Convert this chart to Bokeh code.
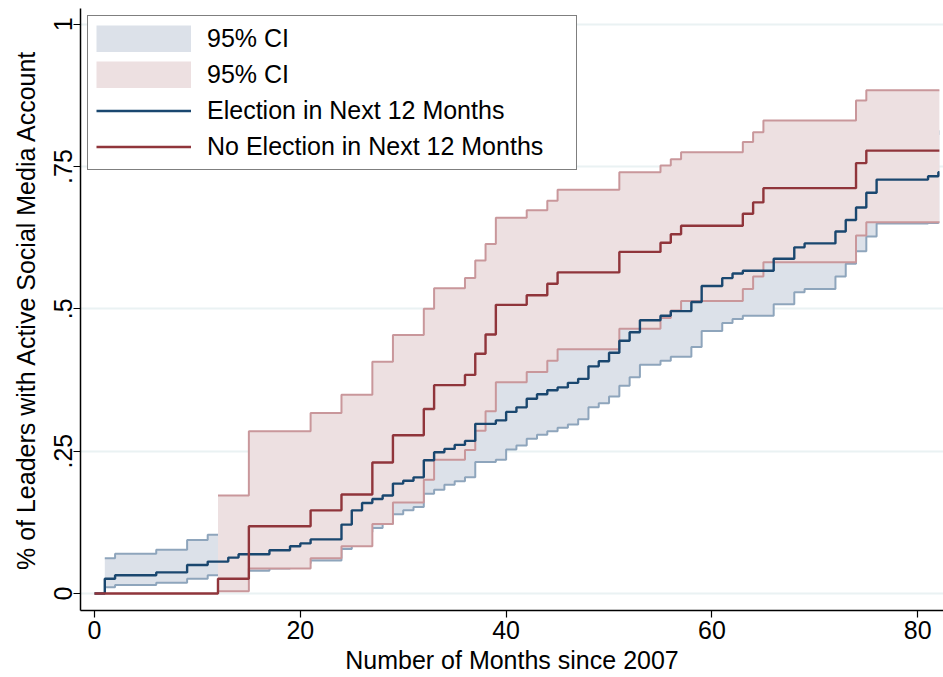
from bokeh.plotting import figure
from bokeh.models import Range1d, FixedTicker, Legend, LegendItem
from bokeh.embed import file_html
from bokeh.resources import INLINE

# ---------------- data ----------------
END_MONTH = 82.1

blue_months = [0, 1, 2, 6, 9, 11, 13, 14, 17, 19, 20, 21, 24, 25, 26, 27, 28, 29, 30, 31,
               32, 33, 34, 35, 36, 37, 39, 40, 41, 42, 43, 44, 45, 46, 47, 48, 49, 50, 51, 52,
               53, 55, 56, 58, 59, 61, 62, 63, 66, 68, 69, 72, 73, 74, 75, 76, 81, 82]
blue_est = [0.000, 0.026, 0.032, 0.037, 0.050, 0.056, 0.063, 0.069, 0.076, 0.083, 0.088, 0.095,
            0.121, 0.146, 0.159, 0.166, 0.172, 0.193, 0.198, 0.204, 0.234, 0.248, 0.254, 0.261,
            0.268, 0.298, 0.304, 0.319, 0.327, 0.342, 0.350, 0.357, 0.362, 0.370, 0.377, 0.399,
            0.408, 0.423, 0.444, 0.459, 0.480, 0.488, 0.496, 0.512, 0.540, 0.554, 0.562, 0.567,
            0.588, 0.608, 0.615, 0.636, 0.656, 0.678, 0.704, 0.727, 0.733, 0.740]
# CI values start at the first event (month 1)
blue_lo = [0.011, 0.015, 0.019, 0.026, 0.032, 0.036, 0.040, 0.044, 0.049, 0.053, 0.058, 0.078,
           0.098, 0.108, 0.115, 0.122, 0.139, 0.146, 0.152, 0.175, 0.182, 0.191, 0.197, 0.204,
           0.231, 0.235, 0.253, 0.260, 0.272, 0.279, 0.285, 0.291, 0.297, 0.306, 0.327, 0.334,
           0.346, 0.365, 0.380, 0.402, 0.409, 0.416, 0.433, 0.461, 0.475, 0.482, 0.488, 0.508,
           0.529, 0.535, 0.557, 0.579, 0.601, 0.627, 0.650, 0.651, 0.652]
blue_hi = [0.062, 0.070, 0.077, 0.094, 0.103, 0.112, 0.120, 0.128, 0.137, 0.143, 0.152, 0.183,
           0.212, 0.228, 0.236, 0.243, 0.267, 0.273, 0.280, 0.313, 0.328, 0.335, 0.342, 0.349,
           0.380, 0.386, 0.402, 0.410, 0.425, 0.433, 0.440, 0.446, 0.454, 0.461, 0.483, 0.492,
           0.507, 0.527, 0.542, 0.562, 0.570, 0.578, 0.593, 0.620, 0.634, 0.641, 0.646, 0.667,
           0.686, 0.693, 0.713, 0.732, 0.753, 0.778, 0.800, 0.806, 0.812]

red_months = [0, 12, 15, 21, 24, 27, 29, 32, 33, 36, 37, 38, 39, 42, 44, 45, 51, 55, 56, 57,
              63, 64, 65, 74, 75]
red_est = [0.000, 0.026, 0.118, 0.146, 0.174, 0.230, 0.278, 0.324, 0.366, 0.384, 0.421, 0.455,
           0.507, 0.524, 0.544, 0.564, 0.600, 0.616, 0.631, 0.646, 0.667, 0.687, 0.712, 0.756,
           0.778]
# CI values start at the first event (month 12)
red_lo = [0.004, 0.044, 0.062, 0.083, 0.122, 0.160, 0.200, 0.235, 0.252, 0.286, 0.320, 0.371,
          0.389, 0.409, 0.429, 0.465, 0.484, 0.497, 0.514, 0.535, 0.557, 0.582, 0.629, 0.652]
red_hi = [0.172, 0.285, 0.317, 0.349, 0.407, 0.454, 0.500, 0.536, 0.554, 0.585, 0.614, 0.660,
          0.673, 0.690, 0.709, 0.740, 0.752, 0.763, 0.775, 0.793, 0.810, 0.831, 0.866, 0.884]

x_ticks = [0, 20, 40, 60, 80]
y_ticks = [0, 0.25, 0.5, 0.75, 1]
y_tick_labels = ["0", ".25", ".5", ".75", "1"]

legend_labels = ["95% CI", "95% CI", "Election in Next 12 Months", "No Election in Next 12 Months"]
x_title = "Number of Months since 2007"
y_title = "% of Leaders with Active Social Media Account"

# ---------------- styles ----------------
FONT = "Liberation Sans"
BLUE = "#1a476f"
RED = "#90353b"
BLUE_FILL = "#dce1e9"
BLUE_EDGE = "#8ea5bc"
RED_FILL = "#ede0e1"
RED_EDGE = "#c9979b"


def ext(xs, ys):
    return list(xs) + [END_MONTH], list(ys) + [ys[-1]]


p = figure(width=943, height=677, output_backend="svg", toolbar_location=None,
           x_range=Range1d(-1.36, 82.5), y_range=Range1d(-0.0299, 1.0276),
           min_border_left=80, min_border_right=0, min_border_top=8, min_border_bottom=67)
p.outline_line_color = None
p.background_fill_color = "white"
p.border_fill_color = "white"

# blue CI band
bx, blo = ext(blue_months[1:], blue_lo)
_, bhi = ext(blue_months[1:], blue_hi)
p.varea_step(x=bx, y1=blo, y2=bhi, step_mode="after", fill_color=BLUE_FILL)
p.step(bx, blo, mode="after", line_color=BLUE_EDGE, line_width=2)
p.step(bx, bhi, mode="after", line_color=BLUE_EDGE, line_width=2)

# red CI band
rx, rlo = ext(red_months[1:], red_lo)
_, rhi = ext(red_months[1:], red_hi)
p.varea_step(x=rx, y1=rlo, y2=rhi, step_mode="after", fill_color=RED_FILL)
p.step(rx, rlo, mode="after", line_color=RED_EDGE, line_width=2)
p.step(rx, rhi, mode="after", line_color=RED_EDGE, line_width=2)

# estimates
bex, bey = ext(blue_months, blue_est)
blue_line = p.step(bex, bey, mode="after", line_color=BLUE, line_width=2.4)
rex, rey = ext(red_months, red_est)
red_line = p.step(rex, rey, mode="after", line_color=RED, line_width=2.4)

# legend keys for the bands: a one-point line draws nothing in the plot,
# but its legend glyph is a full-size filled bar
blue_key = p.line(x=blue_months[:1], y=blue_est[:1], line_color=BLUE_FILL, line_width=27)
red_key = p.line(x=red_months[:1], y=red_est[:1], line_color=RED_FILL, line_width=27)

# axes
p.xaxis.ticker = FixedTicker(ticks=x_ticks)
p.yaxis.ticker = FixedTicker(ticks=y_ticks)
p.yaxis.major_label_overrides = {t: l for t, l in zip(y_ticks, y_tick_labels)}
p.yaxis.major_label_orientation = "vertical"
p.xaxis.axis_label = x_title
p.yaxis.axis_label = y_title
for ax in (p.xaxis[0], p.yaxis[0]):
    ax.axis_line_color = "black"
    ax.axis_line_width = 1.5
    ax.major_tick_line_color = "black"
    ax.major_tick_line_width = 1.2
    ax.major_tick_out = 7
    ax.major_tick_in = 0
    ax.minor_tick_out = 0
    ax.minor_tick_in = 0
    ax.major_label_text_font = FONT
    ax.major_label_text_font_size = "25px"
    ax.major_label_text_color = "black"
    ax.axis_label_text_font = FONT
    ax.axis_label_text_font_size = "25px"
    ax.axis_label_text_font_style = "normal"
    ax.axis_label_text_color = "black"
p.xaxis.major_label_standoff = 3
p.xaxis.axis_label_standoff = 4
p.xaxis.axis_label_text_line_height = 0.8
p.xaxis.major_label_text_line_height = 0.8
p.yaxis.major_label_standoff = 1
p.yaxis.axis_label_standoff = 12

p.xgrid.visible = False
p.ygrid.ticker = FixedTicker(ticks=y_ticks)
p.ygrid.grid_line_color = "#eaf2f3"
p.ygrid.grid_line_width = 2

legend = Legend(items=[
    LegendItem(label=legend_labels[0], renderers=[blue_key]),
    LegendItem(label=legend_labels[1], renderers=[red_key]),
    LegendItem(label=legend_labels[2], renderers=[blue_line]),
    LegendItem(label=legend_labels[3], renderers=[red_line]),
], location="top_left")
legend.margin = 7
legend.padding = 8
legend.spacing = 7
legend.glyph_width = 95
legend.glyph_height = 27
legend.label_height = 27
legend.label_width = 361
legend.label_standoff = 16
legend.label_text_font = FONT
legend.label_text_font_size = "25px"
legend.label_text_color = "black"
legend.border_line_color = "black"
legend.border_line_width = 1.2
legend.background_fill_color = "white"
legend.background_fill_alpha = 1
p.add_layout(legend)

open("out.html", "w").write(file_html(p, INLINE))
